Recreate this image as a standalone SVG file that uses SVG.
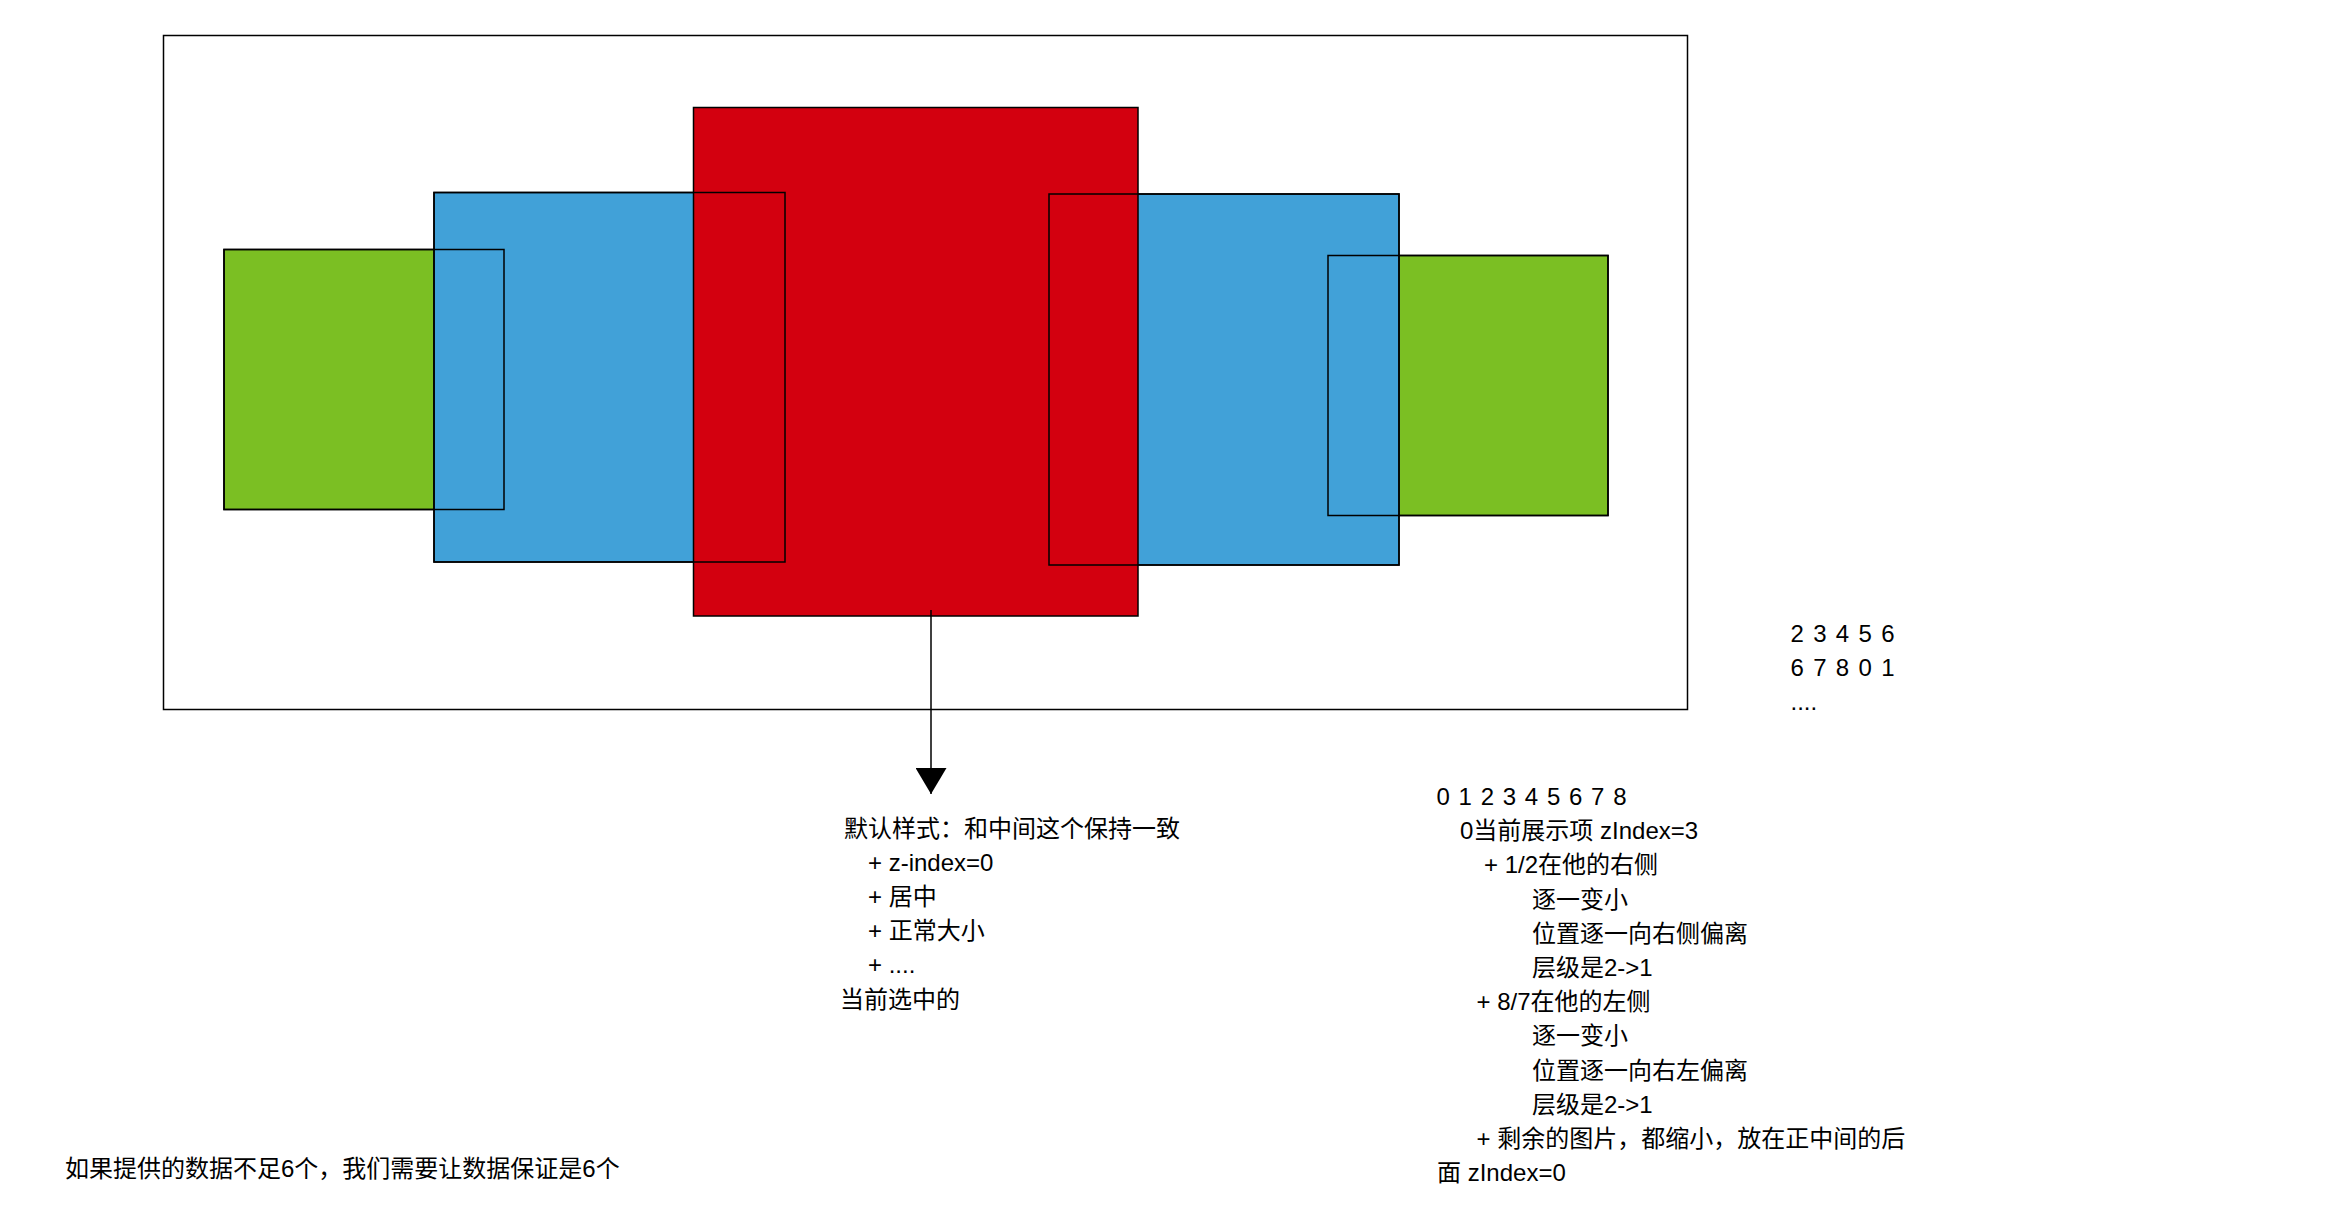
<svg xmlns="http://www.w3.org/2000/svg" width="2345" height="1230" viewBox="0 0 2345 1230">
<style>
.t{font-family:"Liberation Sans","Noto Sans CJK SC",sans-serif;font-size:24px;fill:#000}
.ol{fill:none;stroke:#000;stroke-width:1.5}
.red{fill:#d3000f;stroke:#000;stroke-width:1.5}
.blue{fill:#41a1d8;stroke:#000;stroke-width:1.5}
.green{fill:#7bbf23;stroke:#000;stroke-width:1.5}
.edge{fill:none;stroke:#000;stroke-width:1.5}
</style>
<defs>
<marker id="arr" markerUnits="userSpaceOnUse" markerWidth="26" markerHeight="31" refX="26" refY="15.5" orient="auto" viewBox="0 0 26 31">
<path d="M0,0 L26,15.5 L0,31 Z" fill="#000"/>
</marker>
</defs>
<rect width="2345" height="1230" fill="#fff"/>
<g id="frame"><rect class="ol" x="163.5" y="35.5" width="1524" height="674"/></g>
<g id="green-left"><rect class="green" x="224" y="249.5" width="280" height="260"/></g>
<g id="green-right"><rect class="green" x="1328" y="255.5" width="280" height="260"/></g>
<g id="blue-left"><rect class="blue" x="434" y="192.5" width="351" height="369.5"/></g>
<g id="blue-right"><rect class="blue" x="1049" y="194" width="350" height="371"/></g>
<g id="red-center"><rect class="red" x="693.5" y="107.5" width="444.5" height="508.5"/></g>
<g id="outlines">
<rect class="ol" x="434" y="192.5" width="351" height="369.5"/>
<rect class="ol" x="1049" y="194" width="350" height="371"/>
<rect class="ol" x="224" y="249.5" width="280" height="260"/>
<rect class="ol" x="1328" y="255.5" width="280" height="260"/>
</g>
<g id="connectors">
<path class="edge" d="M931,610 L931,794" marker-end="url(#arr)"/>
</g>
<g id="note-default">
<text class="t" x="844" y="836.5">默认样式：和中间这个保持一致</text>
<text class="t" x="868" y="870.7">+ z-index=0</text>
<text class="t" x="868" y="904.9">+ 居中</text>
<text class="t" x="868" y="939.1">+ 正常大小</text>
<text class="t" x="868" y="973.3">+ ....</text>
<text class="t" x="840" y="1007.5">当前选中的</text>
</g>
<g id="note-sequence">
<text class="t" x="1790.5" y="642" textLength="104" lengthAdjust="spacing">2 3 4 5 6</text>
<text class="t" x="1790.5" y="676" textLength="104" lengthAdjust="spacing">6 7 8 0 1</text>
<text class="t" x="1790.5" y="710">....</text>
</g>
<g id="note-rules">
<text class="t" x="1436.5" y="805" textLength="190" lengthAdjust="spacing">0 1 2 3 4 5 6 7 8</text>
<text class="t" x="1460" y="839.2">0当前展示项 zIndex=3</text>
<text class="t" x="1484" y="873.4">+ 1/2在他的右侧</text>
<text class="t" x="1532" y="907.6">逐一变小</text>
<text class="t" x="1532" y="941.8">位置逐一向右侧偏离</text>
<text class="t" x="1532" y="976">层级是2-&gt;1</text>
<text class="t" x="1476.5" y="1010.2">+ 8/7在他的左侧</text>
<text class="t" x="1532" y="1044.4">逐一变小</text>
<text class="t" x="1532" y="1078.6">位置逐一向右左偏离</text>
<text class="t" x="1532" y="1112.8">层级是2-&gt;1</text>
<text class="t" x="1476.5" y="1147">+ 剩余的图片，都缩小，放在正中间的后</text>
<text class="t" x="1437" y="1181.2">面 zIndex=0</text>
</g>
<g id="note-bottom">
<text class="t" x="65" y="1176.5">如果提供的数据不足6个，我们需要让数据保证是6个</text>
</g>
</svg>
